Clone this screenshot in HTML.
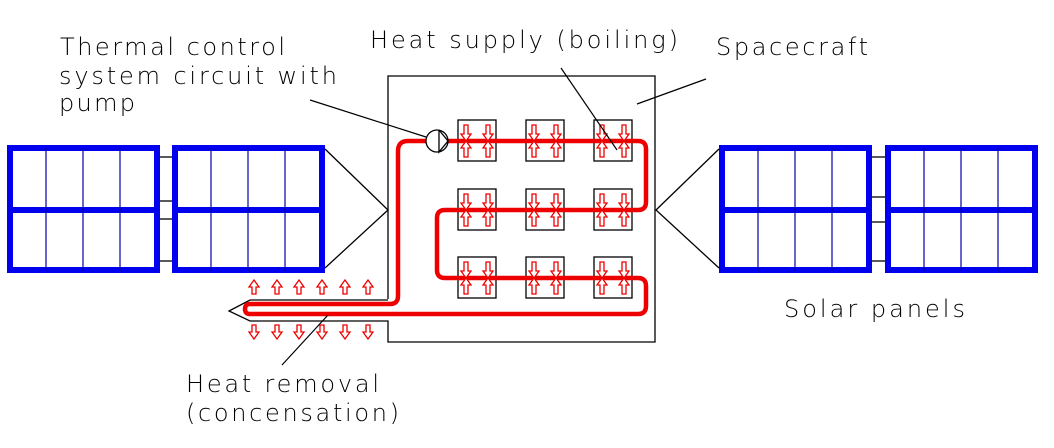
<!DOCTYPE html>
<html><head><meta charset="utf-8"><style>
html,body{margin:0;padding:0;background:#fff;}
svg{display:block;}
text{font-family:"DejaVu Sans","Liberation Sans",sans-serif;font-weight:200;font-size:24px;fill:#000;}
</style></head><body>
<svg width="1054" height="448" viewBox="0 0 1054 448" xmlns="http://www.w3.org/2000/svg">
<defs>
<polygon id="dn" points="0,0 -5,-7 -2,-7 -2,-16 2,-16 2,-7 5,-7" fill="#fff" stroke="#e00" stroke-width="1.3"/>
<polygon id="up" points="0,0 -5,7 -2,7 -2,16 2,16 2,7 5,7" fill="#fff" stroke="#e00" stroke-width="1.3"/>
<polygon id="dn2" points="0,0 -5,-7 -2,-7 -2,-14 2,-14 2,-7 5,-7" fill="#fff" stroke="#e00" stroke-width="1.3"/>
<polygon id="up2" points="0,0 -5,7 -2,7 -2,14 2,14 2,7 5,7" fill="#fff" stroke="#e00" stroke-width="1.3"/>
<g id="cell">
<rect x="0" y="0" width="38" height="41" fill="#fff" stroke="#000" stroke-width="1.3"/>
</g>
<g id="panel">
<rect x="3" y="3" width="147" height="122" fill="#fff" stroke="#0000ee" stroke-width="6"/>
<line x1="3" y1="65" x2="150" y2="65" stroke="#0000ee" stroke-width="6"/>
<g stroke="#0000aa" stroke-width="1.2">
<line x1="39" y1="3" x2="39" y2="125"/><line x1="76" y1="3" x2="76" y2="125"/><line x1="113" y1="3" x2="113" y2="125"/>
</g>
</g>
</defs>

<polyline points="388,299 388,76 655,76 655,342 388,342 388,321 250,321 229,311 250,300 388,300" fill="none" stroke="#000" stroke-width="1.3"/>

<use href="#panel" x="7" y="145"/>
<use href="#panel" x="172" y="145"/>
<use href="#panel" x="719" y="145"/>
<use href="#panel" x="885" y="145"/>
<g stroke="#000" stroke-width="1.3">
<line x1="160" y1="157" x2="172" y2="157"/><line x1="160" y1="201" x2="172" y2="201"/><line x1="160" y1="219" x2="172" y2="219"/><line x1="160" y1="261" x2="172" y2="261"/>
<line x1="872" y1="157" x2="885" y2="157"/><line x1="872" y1="197" x2="885" y2="197"/><line x1="872" y1="222" x2="885" y2="222"/><line x1="872" y1="261" x2="885" y2="261"/>
<polyline points="325,149 388,210 325,268" fill="none"/>
<polyline points="719,149 656,210 719,268" fill="none"/>
</g>

<use href="#cell" x="458" y="120"/><use href="#cell" x="526" y="120"/><use href="#cell" x="594" y="120"/>
<use href="#cell" x="458" y="189"/><use href="#cell" x="526" y="189"/><use href="#cell" x="594" y="189"/>
<use href="#cell" x="458" y="257"/><use href="#cell" x="526" y="257"/><use href="#cell" x="594" y="257"/>

<path d="M428,141 L408,141 Q398,141 398,151 L398,296 Q398,304 390,304 L250,304 Q245,304 245,309 Q245,314 250,314 L638,314 Q646,314 646,306 L646,286 Q646,278 638,278 L445,278 Q437,278 437,270 L437,218 Q437,210 445,210 L638,210 Q646,210 646,202 L646,149 Q646,141 638,141 L440,141" fill="none" stroke="#ee0000" stroke-width="4.5"/>

<g>
<use href="#dn" x="466" y="141"/><use href="#up" x="466" y="141"/><use href="#dn" x="488" y="141"/><use href="#up" x="488" y="141"/>
<use href="#dn" x="534" y="141"/><use href="#up" x="534" y="141"/><use href="#dn" x="556" y="141"/><use href="#up" x="556" y="141"/>
<use href="#dn" x="602" y="141"/><use href="#up" x="602" y="141"/><use href="#dn" x="624" y="141"/><use href="#up" x="624" y="141"/>
<use href="#dn" x="466" y="210"/><use href="#up" x="466" y="210"/><use href="#dn" x="488" y="210"/><use href="#up" x="488" y="210"/>
<use href="#dn" x="534" y="210"/><use href="#up" x="534" y="210"/><use href="#dn" x="556" y="210"/><use href="#up" x="556" y="210"/>
<use href="#dn" x="602" y="210"/><use href="#up" x="602" y="210"/><use href="#dn" x="624" y="210"/><use href="#up" x="624" y="210"/>
<use href="#dn" x="466" y="278"/><use href="#up" x="466" y="278"/><use href="#dn" x="488" y="278"/><use href="#up" x="488" y="278"/>
<use href="#dn" x="534" y="278"/><use href="#up" x="534" y="278"/><use href="#dn" x="556" y="278"/><use href="#up" x="556" y="278"/>
<use href="#dn" x="602" y="278"/><use href="#up" x="602" y="278"/><use href="#dn" x="624" y="278"/><use href="#up" x="624" y="278"/>
</g>

<g>
<use href="#up2" x="254" y="280"/><use href="#up2" x="277" y="280"/><use href="#up2" x="299" y="280"/><use href="#up2" x="322" y="280"/><use href="#up2" x="345" y="280"/><use href="#up2" x="368" y="280"/>
<use href="#dn2" x="254" y="339"/><use href="#dn2" x="277" y="339"/><use href="#dn2" x="299" y="339"/><use href="#dn2" x="322" y="339"/><use href="#dn2" x="345" y="339"/><use href="#dn2" x="368" y="339"/>
</g>

<circle cx="437" cy="141" r="11" fill="#fff" stroke="#000" stroke-width="1.3"/>
<polyline points="439,130 448,141 439,152 439,130" fill="none" stroke="#000" stroke-width="1.3"/>

<g stroke="#000" stroke-width="1.2">
<line x1="310" y1="100" x2="426" y2="137"/>
<line x1="561" y1="68" x2="617" y2="150"/>
<line x1="637" y1="104" x2="706" y2="79"/>
<line x1="282" y1="365" x2="328" y2="315"/>
</g>

<text x="60" y="55" textLength="225" lengthAdjust="spacing">Thermal control</text>
<text x="59" y="84" textLength="278" lengthAdjust="spacing">system circuit with</text>
<text x="59" y="111" textLength="76" lengthAdjust="spacing">pump</text>
<text x="370" y="48" textLength="308" lengthAdjust="spacing">Heat supply (boiling)</text>
<text x="716" y="55" textLength="152" lengthAdjust="spacing">Spacecraft</text>
<text x="784" y="317" textLength="181" lengthAdjust="spacing">Solar panels</text>
<text x="186" y="392" textLength="193" lengthAdjust="spacing">Heat removal</text>
<text x="186" y="421" textLength="213" lengthAdjust="spacing">(concensation)</text>
</svg>
</body></html>
